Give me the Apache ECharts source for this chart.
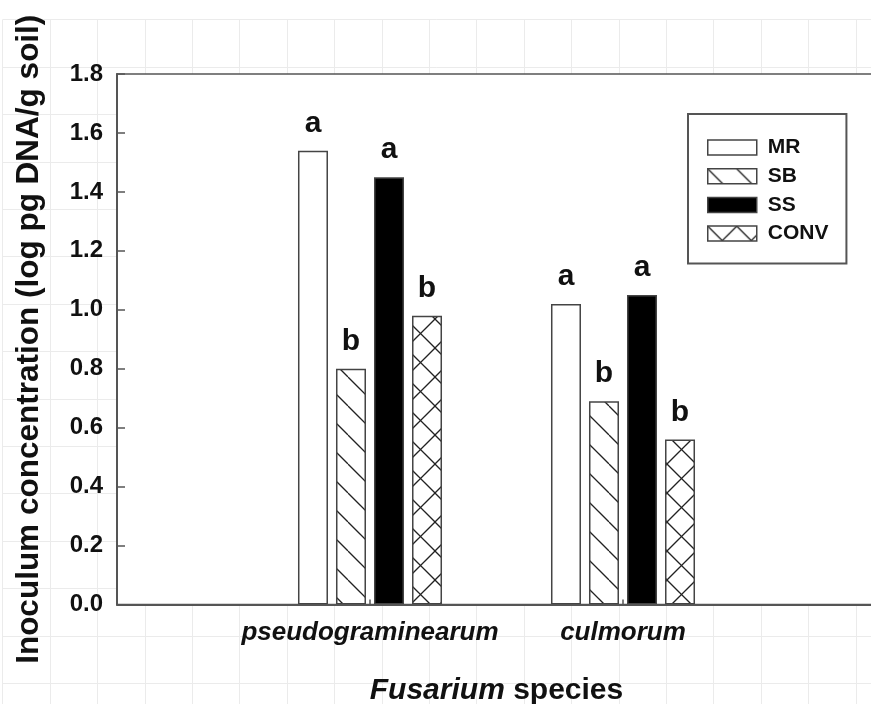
<!DOCTYPE html>
<html>
<head>
<meta charset="utf-8">
<script src="https://cdn.jsdelivr.net/npm/echarts@6/dist/echarts.min.js"></script>
<style>html,body{margin:0;padding:0;background:#fff;}#chart{width:871px;height:704px;}</style>
</head>
<body>
<div id="chart"></div>
<script>
// ---- data ----
const categories = ['pseudograminearum', 'culmorum'];
const seriesNames = ['MR', 'SB', 'SS', 'CONV'];
const valuesMR = [1.54, 1.02];
const valuesSB = [0.80, 0.69];
const valuesSS = [1.45, 1.05];
const valuesCONV = [0.98, 0.56];
const lettersMR = ['a', 'a'];
const lettersSB = ['b', 'b'];
const lettersSS = ['a', 'a'];
const lettersCONV = ['b', 'b'];
const yTicks = [0.0, 0.2, 0.4, 0.6, 0.8, 1.0, 1.2, 1.4, 1.6, 1.8];
const yTitle = 'Inoculum concentration (log pg DNA/g soil)';
const xTitleItalic = 'Fusarium';
const xTitleRest = ' species';

// ---- patterns ----
function makePattern(kind) {
  const S = 29;
  const c = document.createElement('canvas');
  c.width = S; c.height = S;
  const g = c.getContext('2d');
  g.fillStyle = '#fff';
  g.fillRect(0, 0, S, S);
  g.strokeStyle = '#222';
  g.lineWidth = 1.3;
  for (let k = -1; k <= 1; k++) {
    g.beginPath();
    g.moveTo(k * S, 0); g.lineTo(k * S + S, S);
    g.stroke();
    if (kind === 'cross') {
      g.beginPath();
      g.moveTo(k * S + S, 0); g.lineTo(k * S, S);
      g.stroke();
    }
  }
  return { image: c, repeat: 'repeat' };
}
const fills = ['#ffffff', makePattern('back'), '#000000', makePattern('cross')];
const valueLists = [valuesMR, valuesSB, valuesSS, valuesCONV];
const letterLists = [lettersMR, lettersSB, lettersSS, lettersCONV];

const axisCats = [''].concat(categories, ['']);
const font = 'Arial, "Liberation Sans", Helvetica, sans-serif';

const series = seriesNames.map((name, i) => ({
  name: name,
  type: 'bar',
  xAxisIndex: 0, yAxisIndex: 0,
  barWidth: 30,
  barGap: '26.7%',
  data: ['-'].concat(valueLists[i], ['-']),
  itemStyle: { color: fills[i], borderColor: '#444', borderWidth: 1.5 },
  label: {
    show: true, position: 'top', distance: 12,
    fontFamily: font, fontWeight: 'bold', fontSize: 30, color: '#111',
    formatter: p => letterLists[i][p.dataIndex - 1]
  },
  emphasis: { disabled: true }
}));

const chart = echarts.init(document.getElementById('chart'), null, { renderer: 'canvas' });
chart.setOption({
  animation: false,
  backgroundColor: '#fff',
  grid: [
    { left: 117, top: 74, right: -5, bottom: 99.5, outerBoundsMode: 'none', containLabel: false, show: true, backgroundColor: '#fff', borderColor: '#555', borderWidth: 1.5, z: 2 },
    { left: 2.6, top: 19.6, right: 0, bottom: 0, outerBoundsMode: 'none', containLabel: false, show: false }
  ],
  legend: {
    data: seriesNames,
    orient: 'vertical',
    left: 688, top: 114,
    padding: [23, 18, 19.5, 19],
    itemWidth: 49, itemHeight: 15, itemGap: 7.7,
    borderColor: '#555', borderWidth: 2,
    backgroundColor: '#fff',
    icon: 'rect',
    itemStyle: { borderColor: '#444', borderWidth: 1.5 },
    textStyle: { fontFamily: font, fontWeight: 'bold', fontSize: 21, color: '#111', padding: [0, 0, 0, 6] },
    z: 10
  },
  xAxis: [
    {
      type: 'category', gridIndex: 0, data: axisCats, boundaryGap: false,
      z: 3,
      axisLine: { lineStyle: { color: '#555', width: 2 } },
      axisTick: { show: true, inside: true, length: 5, lineStyle: { color: '#555', width: 1.5 } },
      axisLabel: { fontFamily: font, fontWeight: 'bold', fontStyle: 'italic', fontSize: 26, color: '#111', margin: 15, interval: 0 },
      splitLine: { show: false },
      name: '{i|' + xTitleItalic + '}' + xTitleRest,
      nameLocation: 'middle', nameGap: 71.5,
      nameTextStyle: {
        fontFamily: font, fontWeight: 'bold', fontSize: 30, color: '#111',
        rich: { i: { fontFamily: font, fontWeight: 'bold', fontStyle: 'italic', fontSize: 30, color: '#111' } }
      }
    },
    {
      type: 'value', gridIndex: 1, min: 0, max: 868.4, interval: 47.4, z: -10,
      axisLine: { show: false }, axisTick: { show: false }, axisLabel: { show: false },
      splitLine: { show: true, lineStyle: { color: '#ebebeb', width: 1 } }
    }
  ],
  yAxis: [
    {
      type: 'value', gridIndex: 0, min: 0, max: 1.8, interval: 0.2,
      z: 3,
      axisLine: { show: true, lineStyle: { color: '#555', width: 2 } },
      axisTick: { show: true, inside: true, length: 8, lineStyle: { color: '#555', width: 1.5 } },
      axisLabel: {
        fontFamily: font, fontWeight: 'bold', fontSize: 24, color: '#111', margin: 14,
        formatter: v => { const t = yTicks.find(x => Math.abs(x - v) < 1e-6); return (t === undefined ? v : t).toFixed(1); }
      },
      splitLine: { show: false },
      name: yTitle,
      nameLocation: 'middle', nameGap: 72, nameRotate: 90,
      nameTextStyle: { fontFamily: font, fontWeight: 'bold', fontSize: 31.5, color: '#111' }
    },
    {
      type: 'value', gridIndex: 1, min: 0, max: 684.4, interval: 47.4, inverse: true, z: -10,
      axisLine: { show: false }, axisTick: { show: false }, axisLabel: { show: false },
      splitLine: { show: true, lineStyle: { color: '#ebebeb', width: 1 } }
    }
  ],
  series: series
});
</script>
</body>
</html>
